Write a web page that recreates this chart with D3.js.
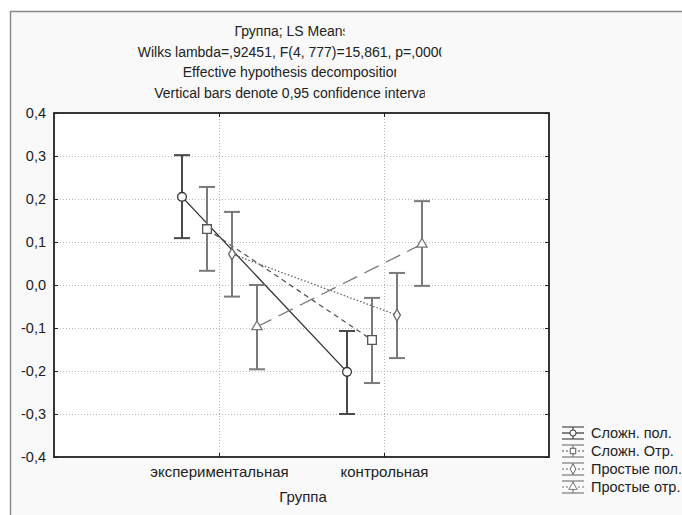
<!DOCTYPE html>
<html>
<head>
<meta charset="utf-8">
<script src="https://cdn.jsdelivr.net/npm/d3@7"></script>
<style>
body { margin: 0; background: #fff; }
svg { display: block; font-family: "Liberation Sans", Arial, sans-serif; }
</style>
</head>
<body>
<div id="chart"></div>
<script>
// data
var categories = ["экспериментальная", "контрольная"];
var seriesNames = ["Сложн. пол.", "Сложн. Отр.", "Простые пол.", "Простые отр."];
var means = [[0.205, -0.202], [0.130, -0.128], [0.072, -0.070], [-0.097, 0.095]];
var lower = [[0.109, -0.300], [0.033, -0.228], [-0.027, -0.170], [-0.196, -0.002]];
var upper = [[0.302, -0.107], [0.228, -0.030], [0.170, 0.028], [0.000, 0.195]];
var yTicks = [-0.4, -0.3, -0.2, -0.1, 0.0, 0.1, 0.2, 0.3, 0.4];
var titleLines = ["Группа; LS Means",
    "Wilks lambda=,92451, F(4, 777)=15,861, p=,0000",
    "Effective hypothesis decomposition",
    "Vertical bars denote 0,95 confidence interval"];
var xTitle = "Группа";

var width = 682, height = 515;
var plot = {left: 54, top: 113, right: 549, bottom: 457};

// line / marker styling per series
var lineColor = ["#333", "#555", "#666", "#777"];
var barColor = ["#4a4a4a", "#7a7a7a", "#7a7a7a", "#7a7a7a"];
var dashes = [null, "5,4", "1.5,2", "16,8"];
var symbols = [d3.symbolCircle, d3.symbolSquare, d3.symbolDiamond, d3.symbolTriangle];
var symSize = [60, 75, 40, 45];

var svg = d3.select("#chart").append("svg")
    .attr("width", width)
    .attr("height", height);

// grey statistica panel
svg.append("rect")
    .attr("x", 10.5).attr("y", 11.5)
    .attr("width", 700).attr("height", 600)
    .attr("fill", "#f9f9f9")
    .attr("stroke", "#8a8a8a")
    .attr("stroke-width", 1.5);

var y = d3.scaleLinear().domain([-0.4, 0.4]).range([plot.bottom, plot.top]);
var x = d3.scalePoint().domain(categories).range([plot.left, plot.right]).padding(1);
var off = d3.scalePoint().domain(seriesNames).range([-37, 38]);

var fmt = function(v){ return d3.format(".1f")(v).replace(".", ",").replace("−", "-"); };

svg.append("rect")
    .attr("x", plot.left).attr("y", plot.top)
    .attr("width", plot.right - plot.left).attr("height", plot.bottom - plot.top)
    .attr("fill", "#fff");

// dotted grid
var grid = svg.append("g").attr("stroke", "#b8b8b8").attr("stroke-dasharray", "1,2");
grid.selectAll("line.h").data(yTicks.slice(1, -1)).enter().append("line")
    .attr("x1", plot.left).attr("x2", plot.right)
    .attr("y1", function(d){ return y(d) + 0.5; })
    .attr("y2", function(d){ return y(d) + 0.5; });
grid.selectAll("line.v").data(categories).enter().append("line")
    .attr("y1", plot.top).attr("y2", plot.bottom)
    .attr("x1", function(d){ return x(d) + 0.5; })
    .attr("x2", function(d){ return x(d) + 0.5; });

// axes with inward ticks
svg.append("g")
    .attr("class", "yax")
    .attr("transform", "translate(" + plot.left + ",0)")
    .call(d3.axisLeft(y).tickValues(yTicks).tickSize(-4).tickPadding(8).tickFormat(fmt));
svg.append("g")
    .attr("transform", "translate(" + plot.right + ",0)")
    .call(d3.axisRight(y).tickValues(yTicks).tickSize(-4).tickFormat(""));
svg.append("g")
    .attr("class", "xax")
    .attr("transform", "translate(0," + plot.bottom + ")")
    .call(d3.axisBottom(x).tickSize(-4).tickPadding(9));
svg.append("g")
    .attr("transform", "translate(0," + plot.top + ")")
    .call(d3.axisTop(x).tickSize(-4).tickFormat(""));
svg.selectAll(".domain").remove();
svg.selectAll(".tick line").attr("stroke", "#222");
svg.selectAll(".tick text").attr("fill", "#222").style("font-size", "14.5px").style("font-family", "Liberation Sans, Arial, sans-serif");
svg.selectAll(".xax .tick text").style("font-size", "15px");

svg.append("rect")
    .attr("x", plot.left).attr("y", plot.top)
    .attr("width", plot.right - plot.left).attr("height", plot.bottom - plot.top)
    .attr("fill", "none").attr("stroke", "#222").attr("stroke-width", 1.8);

// series lines
var g = svg.append("g");
seriesNames.forEach(function(name, s){
    var pts = categories.map(function(c, i){ return [x(c) + off(name), y(means[s][i])]; });
    g.append("path")
        .attr("d", d3.line()(pts))
        .attr("fill", "none")
        .attr("stroke", lineColor[s])
        .attr("stroke-width", 1.3)
        .attr("stroke-dasharray", dashes[s]);
});

// error bars + markers
seriesNames.forEach(function(name, s){
    categories.forEach(function(c, i){
        var cx = x(c) + off(name);
        var eb = g.append("g").attr("stroke", barColor[s]).attr("stroke-width", 2);
        eb.append("line").attr("x1", cx).attr("x2", cx).attr("y1", y(lower[s][i])).attr("y2", y(upper[s][i]));
        eb.append("line").attr("x1", cx - 8).attr("x2", cx + 8).attr("y1", y(lower[s][i])).attr("y2", y(lower[s][i]));
        eb.append("line").attr("x1", cx - 8).attr("x2", cx + 8).attr("y1", y(upper[s][i])).attr("y2", y(upper[s][i]));
        g.append("path")
            .attr("d", d3.symbol().type(symbols[s]).size(symSize[s])())
            .attr("transform", "translate(" + cx + "," + y(means[s][i]) + ")")
            .attr("fill", "#fff")
            .attr("stroke", lineColor[s])
            .attr("stroke-width", 1.3);
    });
});

// title (clipped at the right like the original)
var defs = svg.append("defs");
titleLines.forEach(function(t, i){
    var tx = svg.append("text")
        .attr("x", 292).attr("y", 36 + i * 20.5)
        .attr("text-anchor", "middle")
        .attr("fill", "#222")
        .style("font-size", "14px")
        .text(t);
    var bb = tx.node().getBBox();
    defs.append("clipPath").attr("id", "tc" + i)
        .append("rect").attr("x", 0).attr("y", 0)
        .attr("width", bb.x + bb.width - 5).attr("height", height);
    tx.attr("clip-path", "url(#tc" + i + ")");
});

svg.append("text")
    .attr("x", 303).attr("y", 502)
    .attr("text-anchor", "middle")
    .attr("fill", "#222")
    .style("font-size", "15px")
    .text(xTitle);

// legend
var leg = svg.append("g").attr("transform", "translate(562,433)");
seriesNames.forEach(function(name, s){
    var r = leg.append("g").attr("transform", "translate(0," + s * 18 + ")");
    r.append("line").attr("x1", 0).attr("x2", 22).attr("y1", -6).attr("y2", -6).attr("stroke", barColor[s]).attr("stroke-width", 1.2);
    r.append("line").attr("x1", 0).attr("x2", 22).attr("y1", 6).attr("y2", 6).attr("stroke", barColor[s]).attr("stroke-width", 1.2);
    r.append("line").attr("x1", 11).attr("x2", 11).attr("y1", -6).attr("y2", 6).attr("stroke", barColor[s]).attr("stroke-width", 1.2);
    r.append("line").attr("x1", 0).attr("x2", 22).attr("y1", 0).attr("y2", 0)
        .attr("stroke", lineColor[s]).attr("stroke-width", 1.2).attr("stroke-dasharray", dashes[s] ? "2,2" : null);
    r.append("path")
        .attr("d", d3.symbol().type(symbols[s]).size(30)())
        .attr("transform", "translate(11,0)")
        .attr("fill", "#fff").attr("stroke", lineColor[s]);
    r.append("text")
        .attr("x", 29).attr("y", 5)
        .attr("fill", "#222")
        .style("font-size", "14.5px")
        .text(name);
});
</script>
</body>
</html>
